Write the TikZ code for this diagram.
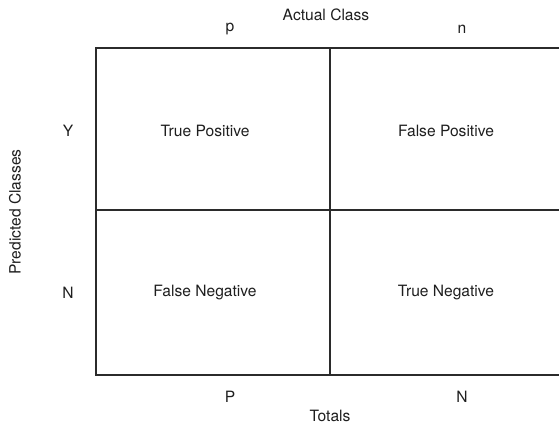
\documentclass[tikz,border=0pt]{standalone}
\usepackage{fontspec}
\setmainfont{TeX Gyre Heros}
\usepackage{xcolor}
\usetikzlibrary{positioning}
\definecolor{cmLine}{HTML}{2B2B2B}
\definecolor{cmText}{HTML}{1E1E1E}
\tikzset{
  label/.style={
    text=cmText,
    font=\fontsize{15.6}{18}\selectfont,
    inner sep=0pt
  },
  cell/.style={label},
  grid/.style={draw=cmLine, line width=2.2pt}
}

\begin{document}
\begin{tikzpicture}[x=1pt, y=-1pt]
  \useasboundingbox (0,0) rectangle (559,429);

  % grid
  \coordinate (tl) at (96,48);
  \coordinate (tr) at (559,48);
  \coordinate (ml) at (96,210);
  \coordinate (mr) at (559,210);
  \coordinate (bl) at (96,375);
  \coordinate (br) at (559,375);
  \coordinate (tm) at (330,48);
  \coordinate (bm) at (330,375);
  \draw[grid] (tr) -- (tl) -- (bl) -- (br);
  \draw[grid] (ml) -- (mr);
  \draw[grid] (tm) -- (bm);

  % headers
  \node[label] (actual) at (326,15) {Actual Class};
  \node[label] (colp) at (230,29) {p};
  \node[label] (coln) at (462,29) {n};
  \node[label, rotate=90] (predicted) at (15,212) {Predicted Classes};
  \node[label] (rowy) at (68,131) {Y};
  \node[label] (rown) at (68,293) {N};

  % cells
  \node[cell] (tp) at (205,131) {True Positive};
  \node[cell] (fp) at (446,131) {False Positive};
  \node[cell] (fn) at (205,293) {False Negative};
  \node[cell] (tn) at (446,293) {True Negative};

  % totals
  \node[label] (totp) at (230,397) {P};
  \node[label] (totn) at (462,397) {N};
  \node[label] (totals) at (330,416) {Totals};
\end{tikzpicture}
\end{document}
